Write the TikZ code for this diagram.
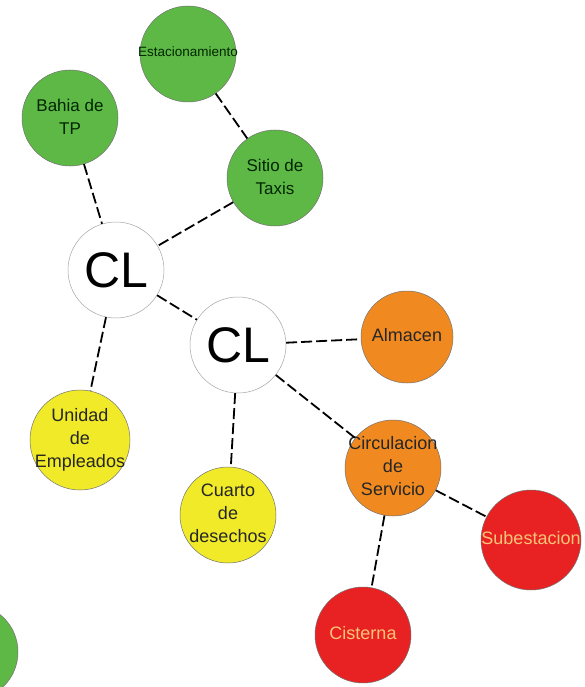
\documentclass[tikz,border=0pt]{standalone}
\usepackage{fontspec}
\setmainfont{Liberation Sans}
\usetikzlibrary{positioning}

\definecolor{verde}{RGB}{94,184,70}
\definecolor{amarillo}{RGB}{240,234,40}
\definecolor{naranja}{RGB}{240,138,32}
\definecolor{rojo}{RGB}{232,34,34}
\definecolor{letra}{RGB}{250,196,120}

% texto centrado que no agranda el circulo
\newcommand{\rotulo}[1]{\makebox[0pt]{\raisebox{-3pt}{\begin{tabular}{@{}c@{}}#1\end{tabular}}}}

\begin{document}
\begin{tikzpicture}[x=1pt, y=-1pt,
    area/.style={circle, inner sep=0pt, minimum size=96pt, draw=black!55, line width=0.5pt,
      font=\fontsize{18}{23}\selectfont},
    cl/.style={area, fill=white, draw=black!35, font=\fontsize{50}{52}\selectfont},
    zona verde/.style={area, fill=verde, text=black!85!green},
    zona amarilla/.style={area, fill=amarillo, text=black!85},
    zona naranja/.style={area, fill=naranja, text=black!85},
    zona roja/.style={area, fill=rojo, text=letra},
    liga/.style={line width=1.8pt, dash pattern=on 11pt off 4pt}]
  \useasboundingbox (0,0) rectangle (585,687);
  \fill[white] (0,0) rectangle (585,687);

  % zonas
  \node[cl] (cl_1) at (116,270) {CL};
  \node[cl] (cl_2) at (238,345) {CL};
  \node[zona verde, font=\fontsize{13.5}{15}\selectfont] (estac) at (188,54) {\rotulo{Estacionamiento}};
  \node[zona verde, font=\fontsize{17}{23}\selectfont] (bahia) at (70,118) {\rotulo{Bahia de\\TP}};
  \node[zona verde, font=\fontsize{17}{23}\selectfont] (taxis) at (275,178) {\rotulo{Sitio de\\Taxis}};
  \node[zona verde] (extra) at (-30,652) {};
  \node[zona amarilla, minimum size=100pt] (empleados) at (80,440) {\rotulo{Unidad\\de\\Empleados}};
  \node[zona amarilla] (desechos) at (228,515) {\rotulo{Cuarto\\de\\desechos}};
  \node[zona naranja, minimum size=92pt] (almacen) at (407,337) {\rotulo{Almacen}};
  \node[zona naranja] (circulacion) at (393,468) {\rotulo{Circulacion\\de\\Servicio}};
  \node[zona roja, minimum size=100pt] (subest) at (531,540) {\rotulo{Subestacion}};
  \node[zona roja] (cisterna) at (363,635) {\rotulo{Cisterna}};

  % ligas
  \path[liga]
    (estac) edge (taxis)
    (bahia) edge (cl_1)
    (taxis) edge (cl_1)
    (cl_1) edge (cl_2)
    (cl_1) edge (empleados)
    (cl_2) edge (almacen)
    (cl_2) edge (desechos)
    (cl_2) edge (circulacion)
    (circulacion) edge (subest)
    (circulacion) edge (cisterna)
    ;
\end{tikzpicture}
\end{document}
